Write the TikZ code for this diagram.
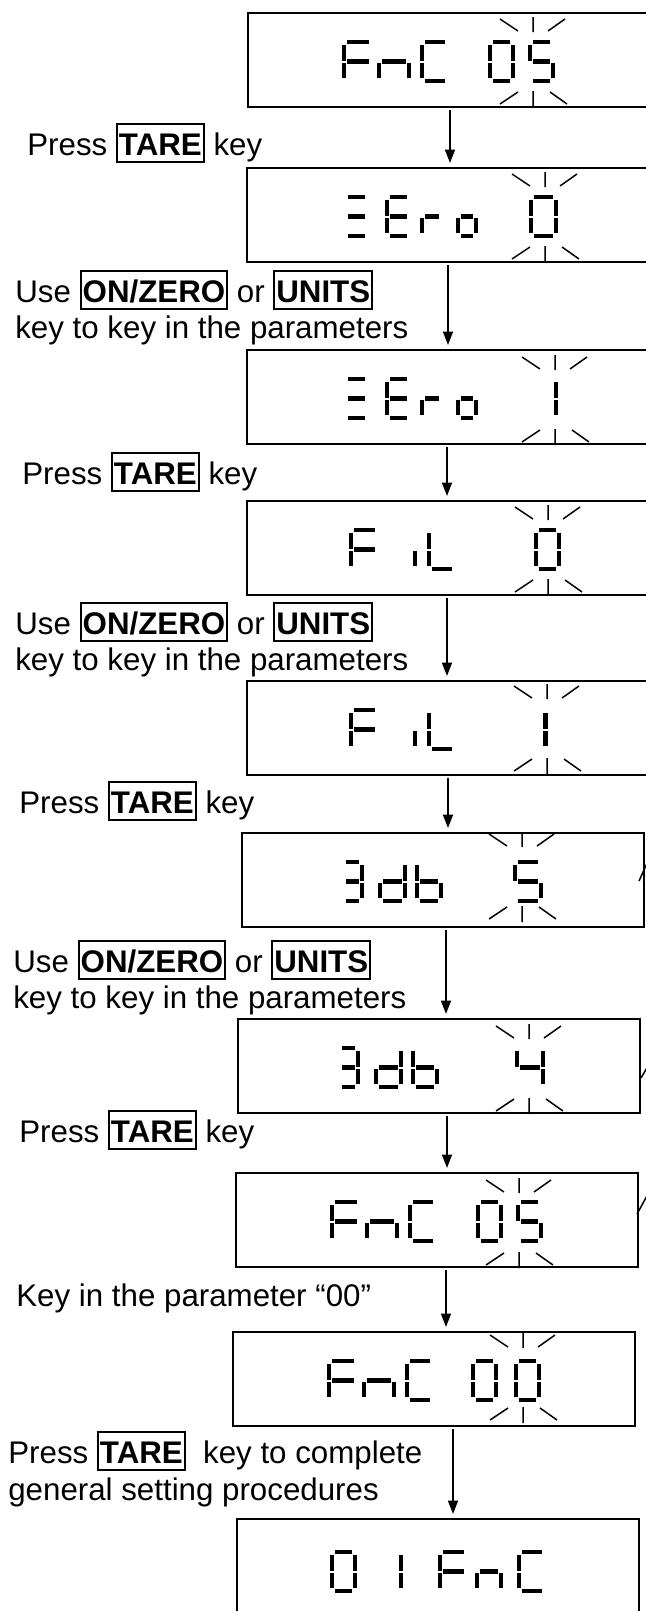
\documentclass[tikz,border=0pt]{standalone}
\usepackage{fontspec}
\setmainfont{Liberation Sans}
\usepackage{tikz}
\usetikzlibrary{arrows.meta}

\newcommand{\labelfont}{\fontsize{17.8}{20.5}\selectfont}
\newcommand{\keycap}[1]{{\fboxsep=0pt\fboxrule=0.04cm%
  \fbox{\rule[-0.12cm]{0pt}{0.72cm}\hspace{0.02cm}\textbf{#1}\hspace{0.02cm}}}}

% Segmentos del display (unidades en pixeles, y hacia abajo)
\newcommand{\lcdt}{4.2}
\newcommand{\lcdtop}{27}
\newcommand{\lcdseg}[1]{%
  \if a#1\fill ({\lcdt+0.5},0) rectangle ({\lcdw-\lcdt-0.5},\lcdt);\fi
  \if b#1\fill ({\lcdw-\lcdt},{\lcdt+0.5}) rectangle (\lcdw,20.5);\fi
  \if c#1\fill ({\lcdw-\lcdt},22.5) rectangle (\lcdw,{42.5-\lcdt});\fi
  \if d#1\fill ({\lcdt+0.5},{43-\lcdt}) rectangle ({\lcdw-\lcdt-0.5},43);\fi
  \if e#1\fill (0,22.5) rectangle (\lcdt,{42.5-\lcdt});\fi
  \if f#1\fill (0,{\lcdt+0.5}) rectangle (\lcdt,20.5);\fi
  \if g#1\fill ({\lcdt+0.5},{21.5-\lcdt/2}) rectangle ({\lcdw-\lcdt-0.5},{21.5+\lcdt/2});\fi}
\newcommand{\lcd}[3][27]{%
  \begin{scope}[shift={(#2,\lcdtop)}]
    \def\lcdw{#1}
    \foreach \s in {#3} {\lcdseg{\s}}
  \end{scope}}

% Marcas de parpadeo
\newcommand{\blink}[2]{%
  \draw[blinkline] (#1,#2-45) -- (#1,#2-30)
    (#1-33,#2-43) -- (#1-15,#2-31) (#1+15,#2-31) -- (#1+32,#2-43)
    (#1,#2+29) -- (#1,#2+45)
    (#1-33,#2+42) -- (#1-15,#2+30) (#1+17,#2+30) -- (#1+34,#2+42);}

% Palabras del display
\newcommand{\wFnC}{\lcd[31.5]{94}{a,f,g,e}\lcd[34]{129}{e,g,c}\lcd[29.5]{172}{a,f,e,d}}
\newcommand{\wZEro}{\lcd{96}{a,g,d}\lcd[26.5]{138}{a,f,g,e,d}\lcd[24]{173}{g,e}\lcd[22]{209}{g,c,d,e}}
\newcommand{\wFiL}{\lcd[30.5]{102}{a,f,g,e}\lcd[4.2]{166}{c}\lcd[29.5]{180}{f,e,d}}
\newcommand{\wThdb}{\lcd[23]{99}{a,b,c,d,g}\lcd[29]{136}{b,c,d,e,g}\lcd[28]{173}{f,e,d,c,g}}

\begin{document}
\begin{tikzpicture}[x=0.2mm, y=-0.2mm,
    lcdbox/.style={draw, line width=0.045cm, minimum width=8.04cm,
      minimum height=1.88cm, inner sep=0pt, outer sep=0pt, anchor=north west},
    flow/.style={-{Triangle[length=0.27cm, width=0.2cm]}, line width=0.035cm,
      shorten <=0.06cm, shorten >=0.1cm},
    blinkline/.style={line width=0.03cm},
    say/.style={anchor=base west, inner sep=0pt, font=\labelfont}]
  \useasboundingbox (0,0) rectangle (646,1611);
  \clip (0,0) rectangle (646,1611);
  \fill[white] (0,0) rectangle (646,1611);

  % Pantallas
  \foreach \n/\bx/\by in {1/248/13, 2/247/168, 3/247/350, 4/247/501, 5/247/681,
      6/242/833, 7/238/1019, 8/236/1173, 9/233/1332, 10/237/1519}
    \node[lcdbox] (lcd\n) at (\bx,\by) {};

  % FnC 05
  \begin{scope}[shift={(lcd1.north west)}]
    \wFnC
    \lcd{240}{a,b,c,d,e,f}
    \lcd{280}{a,f,g,c,d}
    \blink{285}{49}
  \end{scope}

  % ZEro 0
  \begin{scope}[shift={(lcd2.north west)}]
    \wZEro
    \lcd[29]{282}{a,b,c,d,e,f}
    \blink{298}{49}
  \end{scope}

  % ZEro 1
  \begin{scope}[shift={(lcd3.north west)}]
    \wZEro
    \lcd[29]{282}{b,c}
    \blink{308}{50}
  \end{scope}

  % FiL 0
  \begin{scope}[shift={(lcd4.north west)}]
    \wFiL
    \lcd{287}{a,b,c,d,e,f}
    \blink{301}{49}
  \end{scope}

  % FiL 1
  \begin{scope}[shift={(lcd5.north west)}]
    \wFiL
    \lcd[30.5]{270}{b,c}
    \blink{300}{48}
  \end{scope}

  % 3db 5
  \begin{scope}[shift={(lcd6.north west)}]
    \wThdb
    \lcd[30]{271}{a,f,g,c,d}
    \blink{280}{44}
  \end{scope}

  % 3db 4
  \begin{scope}[shift={(lcd7.north west)}]
    \wThdb
    \lcd[30]{277}{f,g,b,c}
    \blink{291}{50}
  \end{scope}

  % FnC 05
  \begin{scope}[shift={(lcd8.north west)}]
    \wFnC
    \lcd{240}{a,b,c,d,e,f}
    \lcd{280}{a,f,g,c,d}
    \blink{283}{50}
  \end{scope}

  % FnC 00
  \begin{scope}[shift={(lcd9.north west)}]
    \wFnC
    \lcd{238}{a,b,c,d,e,f}
    \lcd{281}{a,b,c,d,e,f}
    \blink{290}{46}
  \end{scope}

  % 01FnC
  \begin{scope}[shift={(lcd10.north west)}]
    \renewcommand{\lcdtop}{31}
    \lcd{93}{a,b,c,d,e,f}
    \lcd{139}{b,c}
    \lcd[30.5]{201}{a,f,g,e}
    \lcd[28]{238}{e,g,c}
    \lcd[29.5]{280}{a,f,e,d}
  \end{scope}

  % Marcas cortadas en el borde derecho
  \draw[blinkline] (639,881) -- (648,861);
  \draw[blinkline] (641,1078) -- (648,1066);
  \draw[blinkline] (637,1214) -- (648,1194);

  % Flechas
  \foreach \i/\j/\ax in {1/2/450, 2/3/448, 3/4/447, 4/5/447, 5/6/448,
      6/7/446, 7/8/447, 8/9/446, 9/10/453} {
    \coordinate (ax) at (\ax,0);
    \draw[flow] (lcd\i.south -| ax) -- (lcd\j.north -| ax);
  }

  % Textos
  \node[say] (say1) at (27,155) {Press \keycap{TARE} key};
  \node[say] (say2) at (15,302) {Use \keycap{ON/ZERO} or \keycap{UNITS}};
  \node[say] (say2b) at ([yshift=-0.72cm]say2.base west) {key to key in the parameters};
  \node[say] (say3) at (22,484) {Press \keycap{TARE} key};
  \node[say] (say4) at (15,634) {Use \keycap{ON/ZERO} or \keycap{UNITS}};
  \node[say] (say4b) at ([yshift=-0.72cm]say4.base west) {key to key in the parameters};
  \node[say] (say5) at (19,813) {Press \keycap{TARE} key};
  \node[say] (say6) at (13,972) {Use \keycap{ON/ZERO} or \keycap{UNITS}};
  \node[say] (say6b) at ([yshift=-0.72cm]say6.base west) {key to key in the parameters};
  \node[say] (say7) at (19,1142) {Press \keycap{TARE} key};
  \node[say] (say8) at (16,1306) {Key in the parameter “00”};
  \node[say] (say9) at (8,1463) {Press \keycap{TARE}\ \ key to complete};
  \node[say] (say9b) at ([yshift=-0.74cm]say9.base west) {general setting procedures};
\end{tikzpicture}
\end{document}
